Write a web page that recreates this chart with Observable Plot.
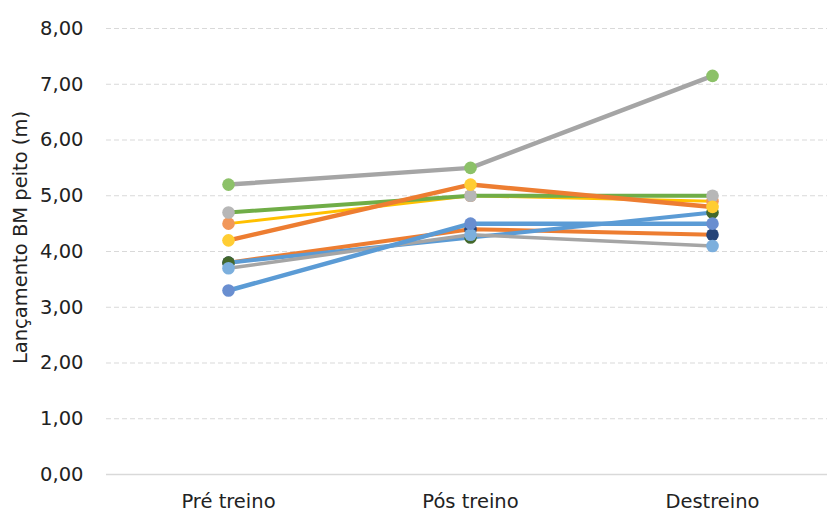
<!DOCTYPE html>
<html>
<head>
<meta charset="utf-8">
<script src="https://cdn.jsdelivr.net/npm/d3@7"></script>
<script src="https://cdn.jsdelivr.net/npm/@observablehq/plot@0.6"></script>
<style>
  html, body { margin: 0; padding: 0; background: #fff; }
  svg { overflow: visible; }
</style>
</head>
<body>
<div id="chart"></div>
<script>
// Moments of measurement
const moments = ["Pré treino", "Pós treino", "Destreino"];

// One array of throw distances (m) per athlete, in drawing order
const athleteC = [4.5, 5.0, 4.9];
const athleteB = [4.7, 5.0, 5.0];
const athleteE = [3.8, 4.4, 4.3];
const athleteH = [3.8, 4.25, 4.7];
const athleteG = [3.7, 4.3, 4.1];
const athleteF = [3.3, 4.5, 4.5];
const athleteD = [4.2, 5.2, 4.8];
const athleteA = [5.2, 5.5, 7.15];

// Line colour and marker colour for each athlete
const lineColors   = ["#FFC000", "#70AD47", "#ED7D31", "#5B9BD5", "#A5A5A5", "#5B9BD5", "#ED7D31", "#A5A5A5"];
const markerColors = ["#F1975A", "#B7B7B7", "#264478", "#43682B", "#7CAFDD", "#698ED0", "#FFCD33", "#8CC168"];
const lineWidths   = [3, 4, 4, 4, 3.5, 4.5, 4.5, 4.5];

const yTicks = [0, 1, 2, 3, 4, 5, 6, 7, 8];

const athletes = [athleteC, athleteB, athleteE, athleteH, athleteG, athleteF, athleteD, athleteA];

const font = "DejaVu Sans, sans-serif";
const fmt = d => d.toFixed(2).replace(".", ",");

const seriesMarks = athletes.flatMap((vals, i) => {
  const rows = vals.map((v, j) => ({moment: moments[j], value: v}));
  return [
    Plot.line(rows, {
      x: "moment", y: "value",
      stroke: lineColors[i], strokeWidth: lineWidths[i],
      strokeLinejoin: "round", strokeLinecap: "round"
    }),
    Plot.dot(rows, {x: "moment", y: "value", r: 6.3, fill: markerColors[i], stroke: "none"})
  ];
});

const chart = Plot.plot({
  width: 827,
  height: 513,
  marginLeft: 106,
  marginRight: 0,
  marginTop: 28,
  marginBottom: 39,
  style: {fontFamily: font, fontSize: "19.5px", color: "#222", background: "#fff"},
  x: {type: "point", domain: moments, range: [227, 712], padding: 0, label: null},
  y: {domain: [0, 8], label: null},
  marks: [
    Plot.ruleY(yTicks.filter(d => d > 0), {stroke: "#D9D9D9", strokeWidth: 1, strokeDasharray: "5,3"}),
    Plot.ruleY([0], {stroke: "#D9D9D9", strokeWidth: 1.5}),
    Plot.axisY(yTicks, {tickSize: 0, tickPadding: 23, tickFormat: fmt, label: null, fill: "#222"}),
    Plot.axisX(moments, {tickSize: 0, tickPadding: 20, label: null, fill: "#222"}),
    Plot.text(["Lançamento BM peito (m)"], {
      frameAnchor: "left", rotate: -90, dx: -86, dy: -14,
      textAnchor: "middle", lineAnchor: "middle", fill: "#222", fontSize: 19.5
    }),
    ...seriesMarks
  ]
});

document.getElementById("chart").appendChild(chart);
</script>
</body>
</html>
